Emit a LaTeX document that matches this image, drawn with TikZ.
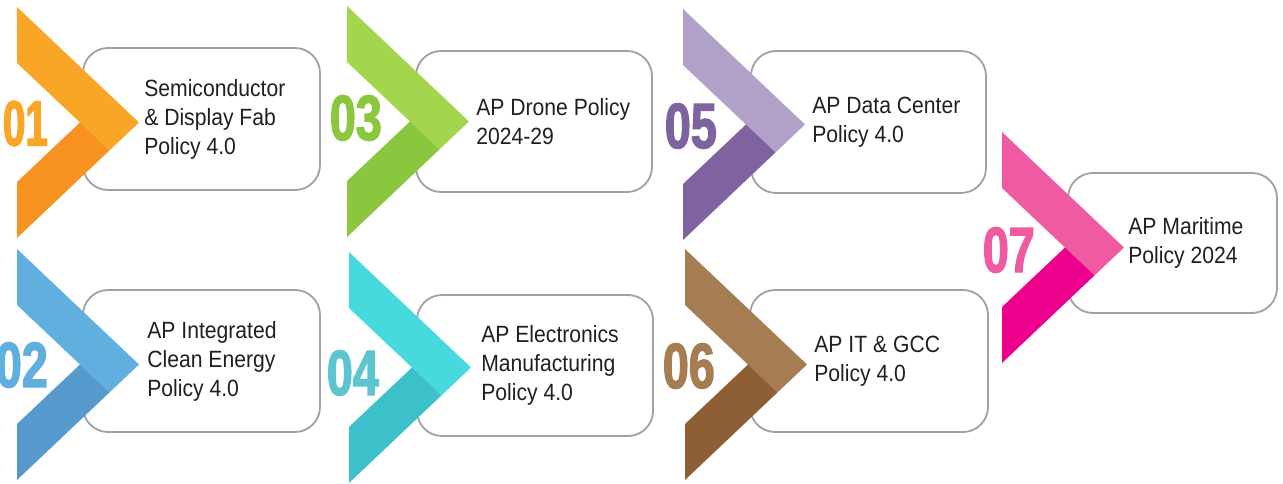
\documentclass[tikz,border=0pt]{standalone}
\usepackage{fontspec}
\setmainfont{Liberation Sans}[FakeStretch=0.9]
\newfontfamily\numfont{Liberation Sans}[FakeStretch=0.73, BoldFeatures={FakeBold=2}]
\newfontfamily\numfontnarrow{Liberation Sans}[FakeStretch=0.63, BoldFeatures={FakeBold=2}]
\usetikzlibrary{positioning}

\definecolor{boxgray}{RGB}{160,161,164}
\definecolor{txtgray}{RGB}{35,31,32}
\definecolor{orangeA}{RGB}{249,166,38}
\definecolor{orangeB}{RGB}{247,146,32}
\definecolor{blueA}{RGB}{96,175,222}
\definecolor{blueB}{RGB}{86,153,204}
\definecolor{greenA}{RGB}{164,214,77}
\definecolor{greenB}{RGB}{139,198,63}
\definecolor{cyanA}{RGB}{70,217,221}
\definecolor{cyanB}{RGB}{60,193,203}
\definecolor{cyanN}{RGB}{92,197,208}
\definecolor{purpleA}{RGB}{177,160,199}
\definecolor{purpleB}{RGB}{126,99,160}
\definecolor{brownA}{RGB}{166,124,82}
\definecolor{brownB}{RGB}{142,94,52}
\definecolor{pinkA}{RGB}{240,90,160}
\definecolor{pinkB}{RGB}{236,0,140}

% chevron: left x, top y, light colour, dark colour
\newcommand{\policychev}[4]{%
  \fill[#3, shift={(#1,#2)}] (0,0) -- (122,115.5) -- (92.5,143.4) -- (0,56) -- cycle;
  \fill[#4, shift={(#1,#2)}] (63,115.5) -- (92.5,143.4) -- (0,231) -- (0,175) -- cycle;
}

\tikzset{
  policybox/.style={draw=boxgray, line width=1.8pt, fill=white, rounded corners=25pt,
    inner sep=0pt},
  policytext/.style={anchor=west, align=left, inner sep=0pt, text=txtgray,
    font=\fontsize{23.5}{29}\selectfont},
  numlabel/.style={anchor=east, inner sep=0pt, font=\numfont\bfseries\fontsize{64}{64}\selectfont}
}

\begin{document}
\begin{tikzpicture}[x=1pt, y=-1pt]
\useasboundingbox (0,0) rectangle (1283,484);
%\draw[step=50,gray,very thin] (0,0) grid (1283,484); %background grid

% boxes
\node[policybox, minimum width=237pt, minimum height=142pt] (b1) at (201.5,119) {};
\node[policybox, minimum width=237pt, minimum height=142pt] (b2) at (201.5,361) {};
\node[policybox, minimum width=236pt, minimum height=141pt] (b3) at (534,121.5) {};
\node[policybox, minimum width=236pt, minimum height=141pt] (b4) at (535,365.5) {};
\node[policybox, minimum width=235pt, minimum height=142pt] (b5) at (868.5,122) {};
\node[policybox, minimum width=238pt, minimum height=142pt] (b6) at (869,361) {};
\node[policybox, minimum width=209pt, minimum height=140pt] (b7) at (1172.5,243) {};

% chevrons
\policychev{17}{7}{orangeA}{orangeB}
\policychev{17}{249}{blueA}{blueB}
\policychev{347}{6}{greenA}{greenB}
\policychev{349}{252}{cyanA}{cyanB}
\policychev{683}{9}{purpleA}{purpleB}
\policychev{685}{249}{brownA}{brownB}
\policychev{1002}{132}{pinkA}{pinkB}

% numbers
\node[numlabel, text=orangeA, font=\numfontnarrow\bfseries\fontsize{64}{64}\selectfont] (n1) at (48,123.5) {01};
\node[numlabel, text=blueA] (n2) at (48,365) {02};
\node[numlabel, text=greenB] (n3) at (382,118) {03};
\node[numlabel, text=cyanN] (n4) at (379,373) {04};
\node[numlabel, text=purpleB] (n5) at (717,126) {05};
\node[numlabel, text=brownA] (n6) at (715,366) {06};
\node[numlabel, text=pinkA] (n7) at (1035,250) {07};

% labels
\node[policytext, right=62pt of b1.west] (t1) {Semiconductor\\\& Display Fab\\Policy 4.0};
\node[policytext, right=65pt of b2.west] (t2) {AP Integrated\\Clean Energy\\Policy 4.0};
\node[policytext, right=61pt of b3.west] (t3) {AP Drone Policy\\2024-29};
\node[policytext, right=65pt of b4.west] (t4) {AP Electronics\\Manufacturing\\Policy 4.0};
\node[policytext, right=62pt of b5.west] (t5) {AP Data Center\\Policy 4.0};
\node[policytext, right=65pt of b6.west] (t6) {AP IT \& GCC\\Policy 4.0};
\node[policytext, right=61pt of b7.west] (t7) {AP Maritime\\Policy 2024};
\end{tikzpicture}
\end{document}
